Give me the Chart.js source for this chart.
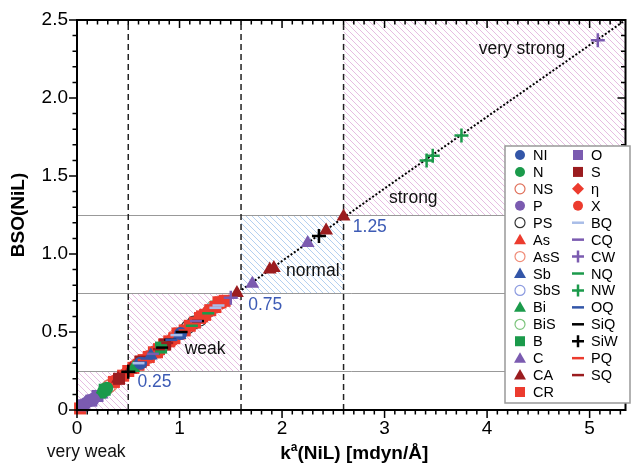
<!DOCTYPE html>
<html>
<head>
<meta charset="utf-8">
<script src="https://cdn.jsdelivr.net/npm/chart.js@4.4.0/dist/chart.umd.min.js"></script>
<style>
  html, body { margin: 0; padding: 0; background: #fff; }
</style>
</head>
<body>
<canvas id="bsoChart" width="635" height="463"></canvas>
<script>
// k^a(NiL) [mdyn/A], BSO(NiL) pairs
const NI  = [[0.62, 0.30], [1.01, 0.49]];
const N   = [[0.26, 0.12], [0.29, 0.14]];
const NS  = [[0.31, 0.15], [0.70, 0.34]];
const P   = [[0.08, 0.04], [0.12, 0.06], [0.16, 0.07]];
const PS  = [[1.08, 0.53], [1.14, 0.56], [1.20, 0.58]];
const As  = [[0.40, 0.19], [0.60, 0.30], [0.90, 0.44], [1.20, 0.59], [1.38, 0.68]];
const AsS = [[0.33, 0.16], [0.95, 0.47]];
const Sb  = [[0.72, 0.35], [1.00, 0.48]];
const SbS = [[0.78, 0.38], [1.30, 0.64]];
const Bi  = [[0.22, 0.10], [0.55, 0.27]];
const BiS = [[0.29, 0.14], [1.33, 0.66]];
const B   = [[0.27, 0.13], [0.82, 0.40]];
const C   = [[0.10, 0.05], [0.18, 0.08], [0.24, 0.10], [1.71, 0.81], [2.25, 1.07]];
const CA  = [[0.40, 0.20], [0.52, 0.26], [1.56, 0.75], [1.88, 0.90], [1.92, 0.91], [2.43, 1.15], [2.60, 1.24]];
const CR  = [[0.03, 0.01], [0.36, 0.18], [0.45, 0.22], [0.50, 0.25], [0.55, 0.27], [0.60, 0.29],
             [0.62, 0.31], [0.65, 0.32], [0.70, 0.34], [0.75, 0.37], [0.78, 0.37], [0.80, 0.39],
             [0.85, 0.42], [0.90, 0.44], [0.95, 0.46], [0.98, 0.49], [1.00, 0.49], [1.05, 0.51],
             [1.10, 0.54], [1.15, 0.56], [1.20, 0.59], [1.22, 0.60], [1.25, 0.61], [1.30, 0.64],
             [1.35, 0.66], [1.38, 0.69], [1.40, 0.69], [1.44, 0.70]];
const O   = [[0.06, 0.03], [0.14, 0.06], [0.20, 0.09]];
const S   = [[0.41, 0.20], [0.62, 0.31], [0.86, 0.42]];
const ETA = [[0.46, 0.23], [1.42, 0.69]];
const X   = [[0.38, 0.19], [0.56, 0.28], [0.93, 0.45], [1.28, 0.63]];
const BQ  = [[0.60, 0.30], [0.97, 0.48], [1.35, 0.655], [1.38, 0.67]];
const CQ  = [[0.74, 0.36], [1.16, 0.57]];
const CW  = [[1.50, 0.72], [5.08, 2.37]];
const NQ  = [[0.75, 0.36], [1.12, 0.54], [1.28, 0.62]];
const NW  = [[3.41, 1.60], [3.47, 1.63], [3.75, 1.76]];
const OQ  = [[0.68, 0.33], [0.92, 0.45]];
const SiQ = [[0.83, 0.40], [0.91, 0.45], [1.02, 0.50], [1.18, 0.57]];
const SiW = [[0.50, 0.245], [2.36, 1.115]];
const PQ  = [[0.65, 0.32], [1.05, 0.51]];
const SQ  = [[0.80, 0.39], [0.88, 0.43]];

// dotted fit curve
const fitK   = [0, 1, 2, 3, 4, 5.35];
const fitBSO = [0, 0.485, 0.955, 1.42, 1.88, 2.5];

// axis ticks
const xTicks = [0, 1, 2, 3, 4, 5];
const yTicks = [0, 0.5, 1.0, 1.5, 2.0, 2.5];

// bond strength zones
const zoneK   = [0.5, 1.6, 2.6];
const zoneBSO = [0.25, 0.75, 1.25];
const zoneLabels   = ['weak', 'normal', 'strong', 'very strong'];
const zoneLabelK   = [1.25, 2.30, 3.28, 4.34];
const zoneLabelBSO = [0.39, 0.89, 1.36, 2.31];
const cutLabels   = ['0.25', '0.75', '1.25'];
const cutLabelK   = [0.59, 1.67, 2.69];
const cutLabelBSO = [0.18, 0.67, 1.17];

const red = '#ec3b2e', dred = '#9b1c1f', blue = '#3356a8', green = '#1b9a4b', purple = '#7b5bb0';

const series = [
  ['NI', NI, 'circle', blue, blue],
  ['N', N, 'circle', green, green],
  ['NS', NS, 'circle', '#fff', '#e0705a'],
  ['P', P, 'circle', purple, purple],
  ['PS', PS, 'circle', '#fff', '#333'],
  ['As', As, 'triangle', red, red],
  ['AsS', AsS, 'circle', '#fff', '#f08c78'],
  ['Sb', Sb, 'triangle', blue, blue],
  ['SbS', SbS, 'circle', '#fff', '#8c9be0'],
  ['Bi', Bi, 'triangle', green, green],
  ['BiS', BiS, 'circle', '#fff', '#7cc47c'],
  ['B', B, 'rect', green, green],
  ['C', C, 'triangle', purple, purple],
  ['CA', CA, 'triangle', dred, dred],
  ['CR', CR, 'rect', red, red],
  ['O', O, 'rect', purple, purple],
  ['S', S, 'rect', dred, dred],
  ['η', ETA, 'rectRot', red, red],
  ['X', X, 'circle', red, red],
  ['BQ', BQ, 'line', '#a9bde8', '#a9bde8'],
  ['CQ', CQ, 'line', purple, purple],
  ['CW', CW, 'cross', purple, purple],
  ['NQ', NQ, 'line', green, green],
  ['NW', NW, 'cross', green, green],
  ['OQ', OQ, 'line', blue, blue],
  ['SiQ', SiQ, 'line', '#000', '#000'],
  ['SiW', SiW, 'cross', '#000', '#000'],
  ['PQ', PQ, 'line', red, red],
  ['SQ', SQ, 'line', dred, dred]
];

const radius = { circle: 6.5, triangle: 8, rect: 8.5, rectRot: 7.5, line: 6, cross: 7 };

// lower order is drawn on top
const datasets = series.map(([name, pts, shape, fill, stroke]) => {
  const open = fill === '#fff';
  let order = 4;
  if (shape === 'line' || shape === 'cross') order = 1;
  else if (open) order = 7;
  else if (fill === red) order = 5;
  return {
    label: name,
    data: pts.map(([x, y]) => ({ x, y })),
    pointStyle: shape,
    pointRadius: radius[shape],
    backgroundColor: fill,
    borderColor: stroke,
    borderWidth: (shape === 'line' || shape === 'cross') ? 2.5 : (open ? 1.2 : 0),
    showLine: false,
    clip: false,
    order: order
  };
});

datasets.push({
  label: 'fit',
  type: 'line',
  data: fitK.map((k, i) => ({ x: k, y: fitBSO[i] })),
  borderColor: '#000',
  borderWidth: 2,
  borderDash: [2, 2],
  pointRadius: 0,
  fill: false,
  tension: 0,
  order: 10
});

function hatch(ctx, color) {
  const c = document.createElement('canvas');
  c.width = c.height = 6;
  const g = c.getContext('2d');
  g.strokeStyle = color;
  g.lineWidth = 0.7;
  g.beginPath();
  g.moveTo(0, 0); g.lineTo(6, 6);
  g.moveTo(-3, 3); g.lineTo(3, 9);
  g.moveTo(3, -3); g.lineTo(9, 3);
  g.stroke();
  return ctx.createPattern(c, 'repeat');
}

function marker(ctx, shape, fill, stroke, x, y) {
  ctx.save();
  ctx.fillStyle = fill;
  ctx.strokeStyle = stroke;
  ctx.lineWidth = (shape === 'line' || shape === 'cross') ? 2.5 : 1.2;
  ctx.beginPath();
  if (shape === 'circle') ctx.arc(x, y, 5, 0, 2 * Math.PI);
  else if (shape === 'triangle') { ctx.moveTo(x, y - 6); ctx.lineTo(x + 6, y + 4.5); ctx.lineTo(x - 6, y + 4.5); ctx.closePath(); }
  else if (shape === 'rect') ctx.rect(x - 5, y - 5, 10, 10);
  else if (shape === 'rectRot') { ctx.moveTo(x, y - 6); ctx.lineTo(x + 6, y); ctx.lineTo(x, y + 6); ctx.lineTo(x - 6, y); ctx.closePath(); }
  else if (shape === 'line') { ctx.moveTo(x - 6, y); ctx.lineTo(x + 6, y); }
  else if (shape === 'cross') { ctx.moveTo(x - 6, y); ctx.lineTo(x + 6, y); ctx.moveTo(x, y - 6); ctx.lineTo(x, y + 6); }
  if (shape !== 'line' && shape !== 'cross') ctx.fill();
  if (shape === 'line' || shape === 'cross' || fill === '#fff') ctx.stroke();
  ctx.restore();
}

const zonesPlugin = {
  id: 'zones',
  beforeDatasetsDraw(chart) {
    const { ctx, chartArea: a, scales: { x, y } } = chart;
    const pink = hatch(ctx, 'rgba(205,120,195,0.7)');
    const sky = hatch(ctx, 'rgba(120,170,228,0.8)');
    const boxes = [
      [0, zoneK[0], 0, zoneBSO[0], pink],
      [zoneK[0], zoneK[1], zoneBSO[0], zoneBSO[1], pink],
      [zoneK[1], zoneK[2], zoneBSO[1], zoneBSO[2], sky],
      [zoneK[2], x.max, zoneBSO[2], y.max, pink]
    ];
    ctx.save();
    boxes.forEach(([k0, k1, b0, b1, pat]) => {
      const l = x.getPixelForValue(k0), r = x.getPixelForValue(k1);
      const t = y.getPixelForValue(b1), btm = y.getPixelForValue(b0);
      ctx.fillStyle = pat;
      ctx.fillRect(l, t, r - l, btm - t);
    });
    ctx.strokeStyle = '#999';
    ctx.lineWidth = 1;
    zoneBSO.forEach(v => {
      const py = Math.round(y.getPixelForValue(v)) + 0.5;
      ctx.beginPath(); ctx.moveTo(a.left, py); ctx.lineTo(a.right, py); ctx.stroke();
    });
    ctx.strokeStyle = '#222';
    ctx.lineWidth = 1.5;
    ctx.setLineDash([6, 4]);
    zoneK.forEach(v => {
      const px = x.getPixelForValue(v);
      ctx.beginPath(); ctx.moveTo(px, a.bottom); ctx.lineTo(px, a.top); ctx.stroke();
    });
    ctx.restore();
  },
  afterDraw(chart) {
    const { ctx, chartArea: a, scales: { x, y } } = chart;
    ctx.save();
    // frame and ticks
    ctx.strokeStyle = '#000';
    ctx.lineWidth = 2;
    ctx.strokeRect(a.left, a.top, a.right - a.left, a.bottom - a.top);
    ctx.lineWidth = 1.5;
    for (let i = 0; i <= 60; i++) {
      const px = x.getPixelForValue(i / 10);
      if (px > a.right - 1) break;
      const L = i % 10 === 0 ? 8 : 4.5;
      ctx.beginPath();
      ctx.moveTo(px, a.bottom); ctx.lineTo(px, a.bottom + L);
      ctx.moveTo(px, a.top); ctx.lineTo(px, a.top + L);
      ctx.stroke();
    }
    for (let i = 0; i <= 25; i++) {
      const py = y.getPixelForValue(i / 10);
      const L = i % 5 === 0 ? 8 : 4.5;
      ctx.beginPath();
      ctx.moveTo(a.left - L, py); ctx.lineTo(a.left, py);
      ctx.moveTo(a.right - L, py); ctx.lineTo(a.right, py);
      ctx.stroke();
    }
    // zone labels
    ctx.fillStyle = '#111';
    ctx.font = '17.5px "Liberation Sans", Arial, sans-serif';
    ctx.textAlign = 'center';
    ctx.textBaseline = 'middle';
    zoneLabels.forEach((t, i) => ctx.fillText(t, x.getPixelForValue(zoneLabelK[i]), y.getPixelForValue(zoneLabelBSO[i])));
    ctx.fillText('very weak', x.getPixelForValue(0.09), a.bottom + 42);
    ctx.fillStyle = '#3d5bb5';
    ctx.textAlign = 'left';
    cutLabels.forEach((t, i) => ctx.fillText(t, x.getPixelForValue(cutLabelK[i]), y.getPixelForValue(cutLabelBSO[i])));
    // x axis title with superscript
    ctx.fillStyle = '#000';
    const big = 'bold 19px "Liberation Sans", Arial, sans-serif';
    const small = 'bold 12px "Liberation Sans", Arial, sans-serif';
    ctx.font = big; const w1 = ctx.measureText('k').width;
    const w3 = ctx.measureText('(NiL) [mdyn/Å]').width;
    ctx.font = small; const w2 = ctx.measureText('a').width;
    let sx = (a.left + a.right) / 2 + 3 - (w1 + w2 + w3) / 2;
    const base = a.bottom + 49;
    ctx.textBaseline = 'alphabetic';
    ctx.font = big; ctx.fillText('k', sx, base); sx += w1;
    ctx.font = small; ctx.fillText('a', sx, base - 8); sx += w2;
    ctx.font = big; ctx.fillText('(NiL) [mdyn/Å]', sx, base);
    // legend box
    const bx = 505, by = 146, bw = 125, bh = 257;
    ctx.fillStyle = '#fff';
    ctx.fillRect(bx, by, bw, bh);
    ctx.strokeStyle = '#999';
    ctx.lineWidth = 1.5;
    ctx.strokeRect(bx, by, bw, bh);
    ctx.font = '14.5px "Liberation Sans", Arial, sans-serif';
    ctx.textBaseline = 'middle';
    series.forEach(([name, pts, shape, fill, stroke], i) => {
      const col = i < 15 ? 0 : 1;
      const row = i < 15 ? i : i - 15;
      const mx = col === 0 ? 520 : 578;
      const my = 155 + row * 16.93;
      marker(ctx, shape, fill, stroke, mx, my);
      ctx.fillStyle = '#000';
      ctx.fillText(name, mx + 13, my + 1);
    });
    ctx.restore();
  }
};

const ctx = document.getElementById('bsoChart').getContext('2d');

new Chart(ctx, {
  type: 'scatter',
  data: { datasets: datasets },
  options: {
    responsive: false,
    devicePixelRatio: 1,
    animation: false,
    layout: { padding: { top: 20, right: 2, left: 0, bottom: 0 } },
    plugins: { legend: { display: false }, tooltip: { enabled: false } },
    scales: {
      x: {
        type: 'linear',
        min: 0,
        max: 5.35,
        afterFit: s => { s.height = 53; },
        afterBuildTicks: s => { s.ticks = xTicks.map(v => ({ value: v })); },
        grid: { display: false },
        border: { display: false },
        ticks: {
          padding: -1,
          color: '#000',
          font: { family: '"Liberation Sans", Arial, sans-serif', size: 19 },
          callback: v => String(v)
        }
      },
      y: {
        type: 'linear',
        min: 0,
        max: 2.5,
        afterFit: s => { s.width = 77; },
        afterBuildTicks: s => { s.ticks = yTicks.map(v => ({ value: v })); },
        grid: { display: false },
        border: { display: false },
        title: {
          display: true,
          text: 'BSO(NiL)',
          color: '#000',
          padding: { top: 7, bottom: 0 },
          font: { family: '"Liberation Sans", Arial, sans-serif', size: 19, weight: 'bold' }
        },
        ticks: {
          padding: 1,
          color: '#000',
          font: { family: '"Liberation Sans", Arial, sans-serif', size: 19 },
          callback: v => v === 0 ? '0' : v.toFixed(1)
        }
      }
    }
  },
  plugins: [zonesPlugin]
});
</script>
</body>
</html>
